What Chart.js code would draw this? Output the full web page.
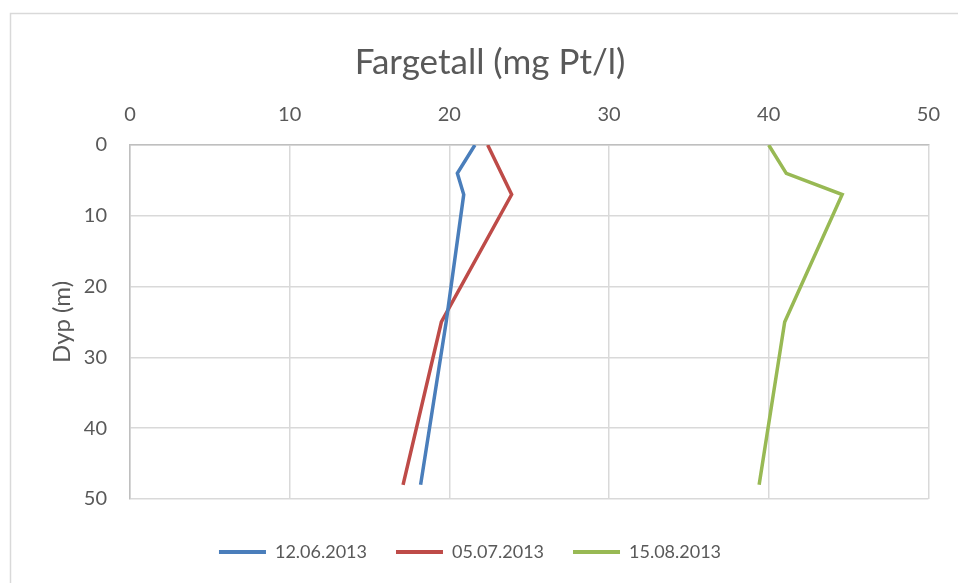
<!DOCTYPE html>
<html>
<head>
<meta charset="utf-8">
<script src="https://cdn.jsdelivr.net/npm/chart.js@4"></script>
<style>
  html, body { margin: 0; padding: 0; background: #ffffff; }
  #wrap { width: 958px; height: 583px; position: relative; }
</style>
</head>
<body>
<div id="wrap"><canvas id="c" width="958" height="583"></canvas></div>
<script>
const chartTitle = 'Fargetall (mg Pt/l)';
const yAxisTitle = 'Dyp (m)';
const depths = [0, 4, 7, 25, 48];
const seriesNames = ['12.06.2013', '05.07.2013', '15.08.2013'];
const series1 = [21.6, 20.5, 20.9, 19.8, 18.2];
const series2 = [22.4, null, 23.9, 19.5, 17.1];
const series3 = [40.0, 41.1, 44.6, 41.0, 39.4];
const seriesColors = ['#4A7EBB', '#BE4B48', '#98B954'];
const xTicks = [0, 10, 20, 30, 40, 50];
const yTicks = [0, 10, 20, 30, 40, 50];

const FONT = 'Lato, "Open Sans", sans-serif';
const TEXT = '#595959';

function toPoints(vals) {
  return depths.map((d, i) => ({ x: vals[i], y: d }));
}

const framePlugin = {
  id: 'frame',
  beforeDraw(chart) {
    const ctx = chart.ctx;
    ctx.save();
    ctx.fillStyle = '#ffffff';
    ctx.fillRect(0, 0, chart.width, chart.height);
    ctx.strokeStyle = '#D9D9D9';
    ctx.lineWidth = 1.5;
    ctx.strokeRect(10.5, 13.5, 2000, 2000);
    ctx.restore();
  },
  afterDraw(chart) {
    const ctx = chart.ctx;
    ctx.save();
    ctx.fillStyle = TEXT;
    ctx.font = '35px ' + FONT;
    ctx.textAlign = 'center';
    ctx.textBaseline = 'alphabetic';
    ctx.fillText(chartTitle, 490, 74);
    ctx.restore();
  }
};

new Chart(document.getElementById('c'), {
  type: 'scatter',
  data: {
    datasets: [series1, series2, series3].map((vals, i) => ({
      label: seriesNames[i],
      data: toPoints(vals),
      showLine: true,
      spanGaps: true,
      borderColor: seriesColors[i],
      backgroundColor: seriesColors[i],
      borderWidth: 3.5,
      pointRadius: 0,
      pointHoverRadius: 0,
      tension: 0
    }))
  },
  options: {
    responsive: false,
    animation: false,
    devicePixelRatio: 1,
    layout: { padding: { top: 13, left: 10, right: 28, bottom: 12 } },
    plugins: {
      title: { display: false },
      tooltip: { enabled: false },
      legend: {
        display: true,
        position: 'bottom',
        labels: {
          color: TEXT,
          font: { family: FONT, size: 18 },
          boxWidth: 47,
          boxHeight: 4,
          padding: 29,
          generateLabels(chart) {
            return chart.data.datasets.map((ds, i) => ({
              text: ds.label,
              fillStyle: ds.borderColor,
              strokeStyle: ds.borderColor,
              lineWidth: 0,
              fontColor: TEXT,
              datasetIndex: i,
              hidden: false
            }));
          }
        }
      }
    },
    scales: {
      x: {
        type: 'linear',
        position: 'top',
        min: 0,
        max: 50,
        afterBuildTicks(scale) { scale.ticks = xTicks.map(v => ({ value: v })); },
        afterFit(scale) { scale.height = 132; },
        ticks: { color: TEXT, font: { family: FONT, size: 20 }, padding: 18 },
        grid: { color: '#D9D9D9', lineWidth: 1.5, drawTicks: false },
        border: { color: '#BFBFBF', width: 1.5 }
      },
      x2: {
        type: 'linear',
        position: 'bottom',
        display: true,
        afterFit(scale) { scale.height = 15; },
        ticks: { display: false },
        grid: { display: false, drawTicks: false },
        border: { display: false }
      },
      y: {
        type: 'linear',
        reverse: true,
        min: 0,
        max: 50,
        afterBuildTicks(scale) { scale.ticks = yTicks.map(v => ({ value: v })); },
        afterFit(scale) { scale.width = 120; },
        ticks: { color: TEXT, font: { family: FONT, size: 20 }, padding: 23 },
        grid: { color: '#D9D9D9', lineWidth: 1.5, drawTicks: false },
        border: { color: '#BFBFBF', width: 1.5 },
        title: {
          display: true,
          text: yAxisTitle,
          color: TEXT,
          font: { family: FONT, size: 24 },
          padding: { top: 38, bottom: 0 }
        }
      }
    }
  },
  plugins: [framePlugin]
});
</script>
</body>
</html>
